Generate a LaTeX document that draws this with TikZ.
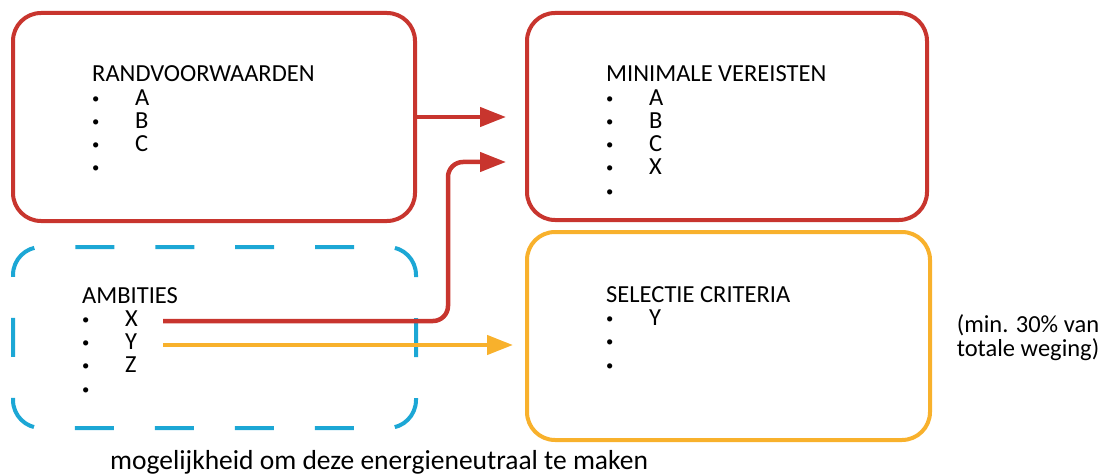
\documentclass[tikz,border=0pt]{standalone}
\usepackage{fontspec}
\setmainfont{Carlito}
\usepackage{tikz}
\usetikzlibrary{positioning}
\usetikzlibrary{arrows.meta}
\definecolor{boxred}{HTML}{C8352E}
\definecolor{boxgold}{HTML}{F8B12C}
\definecolor{boxblue}{HTML}{1CA7D5}
\newcommand{\bitem}[1]{\makebox[43pt][l]{\raisebox{2pt}{\scalebox{0.6}{\textbullet}}}#1}
\begin{document}
\begin{tikzpicture}[x=1pt,y=-1pt,
	red box/.style={draw=boxred,line width=4pt,rounded corners=28pt},
	gold box/.style={draw=boxgold,line width=4pt,rounded corners=28pt},
	dash line/.style={draw=boxblue,line width=4pt,rounded corners=28pt,dash pattern=on 39pt off 41pt,dash phase=59.5pt},
	list text/.style={anchor=base west,align=left,inner sep=0pt,font=\fontsize{24.5}{23.25}\selectfont},
	red arrow/.style={draw=boxred,line width=4.5pt,-{Triangle[length=26pt,width=19pt]}},
	gold arrow/.style={draw=boxgold,line width=4.5pt,-{Triangle[length=26pt,width=19pt]}}]
	\useasboundingbox (0,0) rectangle (1106,476);
	% boxes
	\node[red box,minimum width=402pt,minimum height=208pt] (rand) at (214,117) {};
	\node[red box,minimum width=400pt,minimum height=207pt] (min) at (727,116.5) {};
	\node[inner sep=0pt,outer sep=0pt,minimum width=403pt,minimum height=181pt] (amb) at (214.5,337.5) {};
	\node[gold box,minimum width=403pt,minimum height=208pt] (sel) at (728.5,336) {};
	% dashed border, started at the top middle so the dashes come out even
	\draw[dash line] (amb.north) -- (amb.north east) -- (amb.south east) -- (amb.south west) -- (amb.north west) -- (amb.north);
	% lists (anchored at the baseline of their last line)
	\node[list text] (randtext) at (92,175) {RANDVOORWAARDEN\\\bitem{A}\\\bitem{B}\\\bitem{C}\\\bitem{}};
	\node[list text] (mintext) at (606,198) {MINIMALE VEREISTEN\\\bitem{A}\\\bitem{B}\\\bitem{C}\\\bitem{X}\\\bitem{}};
	\node[list text] (ambtext) at (82,396) {AMBITIES\\\bitem{X}\\\bitem{Y}\\\bitem{Z}\\\bitem{}};
	\node[list text] (seltext) at (606,372) {SELECTIE CRITERIA\\\bitem{Y}\\\bitem{}\\\bitem{}};
	\node[list text,anchor=base,align=center,font=\fontsize{24.5}{24}\selectfont] (note) at (1028,356) {(min. 30\% van\\totale weging)};
	\node[list text,font=\fontsize{27.5}{30}\selectfont] (option) at (110,469) {mogelijkheid om deze energieneutraal te maken};
	% connectors
	\coordinate (ambx) at (163,321);
	\coordinate (amby) at (163,345);
	\draw[red arrow,shorten >=19pt] (rand.east) -- (min.west |- rand.east);
	\draw[red arrow,rounded corners=15pt,shorten >=19pt] (ambx) -- (448,321) -- (448,162) -- (min.west |- 448,162);
	\draw[gold arrow,shorten >=12pt] (amby) -- (sel.west |- amby);
\end{tikzpicture}
\end{document}
